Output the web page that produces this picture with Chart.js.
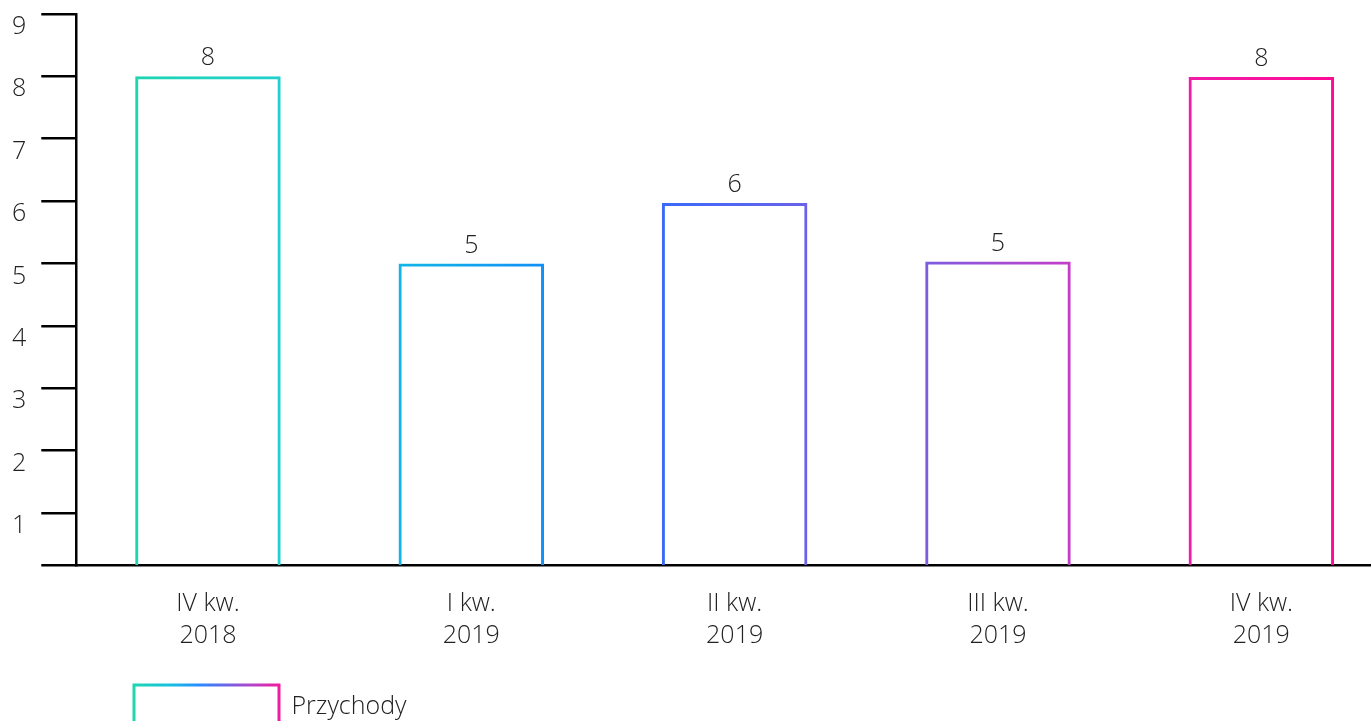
<!DOCTYPE html>
<html><head><meta charset="utf-8">
<script src="https://cdn.jsdelivr.net/npm/chart.js@4"></script>
<style>
html,body{margin:0;padding:0;background:#fff;overflow:hidden;}
#wrap{width:1393px;height:739px;}
</style></head>
<body><div id="wrap"><canvas id="c" width="1393" height="739"></canvas></div>
<script>
const categories = [["IV kw.","2018"],["I kw.","2019"],["II kw.","2019"],["III kw.","2019"],["IV kw.","2019"]];
const revenue = [8, 5, 5.97, 5.03, 7.99];
const seriesName = "Przychody";
const yTicks = [1,2,3,4,5,6,7,8,9];

const FONT = "'Open Sans', 'Noto Sans', sans-serif";
const stops = [
  [0.0, '#1FD8A8'], [0.05, '#1DD5B2'], [0.16, '#22CFD0'], [0.245, '#12B6E6'],
  [0.355, '#1190F6'], [0.445, '#3A6AFA'], [0.555, '#6A62E8'], [0.645, '#7E5CDE'],
  [0.755, '#C43EC8'], [0.845, '#F01CA8'], [0.955, '#FF0A94'], [1.0, '#FF0890']
];
function barGradient(ctx) {
  const ch = ctx.chart; const a = ch.chartArea;
  if (!a) return '#1DD5B2';
  const g = ch.ctx.createLinearGradient(a.left, 0, a.right, 0);
  stops.forEach(s => g.addColorStop(s[0], s[1]));
  return g;
}
const LEG_X = 134, LEG_W = 145;
function legendGradient(ctx) {
  const g = ctx.createLinearGradient(LEG_X, 0, LEG_X + LEG_W, 0);
  g.addColorStop(0, '#1ED6B0'); g.addColorStop(0.25, '#16C0E0'); g.addColorStop(0.45, '#2A8CFF');
  g.addColorStop(0.6, '#5F6BEA'); g.addColorStop(0.8, '#B046CC'); g.addColorStop(1, '#F01CA0');
  return g;
}

const valueLabels = {
  id: 'valueLabels',
  afterDatasetsDraw(chart) {
    const ctx = chart.ctx; const meta = chart.getDatasetMeta(0);
    ctx.save();
    ctx.font = "300 25px " + FONT; ctx.fillStyle = '#222';
    ctx.textAlign = 'center'; ctx.textBaseline = 'middle';
    meta.data.forEach((el, i) => {
      ctx.fillText(String(Math.round(revenue[i])), el.x, el.y - 18);
    });
    ctx.restore();
  }
};
const legendShift = {
  id: 'legendShift',
  beforeDraw(chart) {
    const lg = chart.legend;
    if (lg && !lg._shifted) { lg.left += LEG_X - lg.left - lg.options.labels.padding; lg._shifted = true; }
  },
  afterLayout(chart) { if (chart.legend) chart.legend._shifted = false; }
};

new Chart(document.getElementById('c'), {
  type: 'bar',
  data: {
    labels: categories,
    datasets: [{
      label: seriesName,
      data: revenue,
      backgroundColor: 'rgba(255,255,255,0)',
      borderColor: barGradient,
      borderWidth: 3,
      borderSkipped: false,
      barPercentage: 0.5526,
      categoryPercentage: 1
    }]
  },
  options: {
    responsive: false,
    animation: false,
    layout: { padding: { left: 0, top: 14, right: 0, bottom: 0 } },
    plugins: {
      tooltip: { enabled: false },
      legend: {
        position: 'bottom', align: 'start',
        labels: {
          boxWidth: LEG_W, boxHeight: 44, padding: 10,
          font: { family: FONT, size: 25, weight: '300' }, color: '#222',
          generateLabels(chart) {
            return [{
              text: seriesName, fillStyle: 'rgba(255,255,255,0)',
              strokeStyle: legendGradient(chart.ctx), lineWidth: 3,
              datasetIndex: 0, hidden: false, fontColor: '#222'
            }];
          }
        }
      }
    },
    scales: {
      x: {
        grid: { display: false },
        border: { display: true, color: '#000', width: 2.5 },
        ticks: { font: { family: FONT, size: 25, weight: '300', lineHeight: 1.28 }, color: '#222', padding: 15, maxRotation: 0 },
        afterFit(scale) { scale.height += 8; }
      },
      y: {
        min: 0.165, max: 9,
        afterBuildTicks(scale) {
          scale.ticks = [{ value: 0.165 }].concat(yTicks.map(v => ({ value: v })));
        },
        afterFit(scale) { scale.width -= 3; scale.paddingTop = 0; scale.paddingBottom = 0; },
        grid: { drawOnChartArea: false, drawTicks: true, tickLength: 35, color: '#000', tickColor: '#000', tickWidth: 2.5, lineWidth: 2.5 },
        border: { display: true, color: '#000', width: 2.5 },
        ticks: {
          font: { family: FONT, size: 25, weight: '300' }, color: '#222', padding: 15, labelOffset: 13,
          callback: v => (Number.isInteger(v) ? String(v) : '')
        }
      }
    }
  },
  plugins: [valueLabels, legendShift]
});
</script></body></html>
